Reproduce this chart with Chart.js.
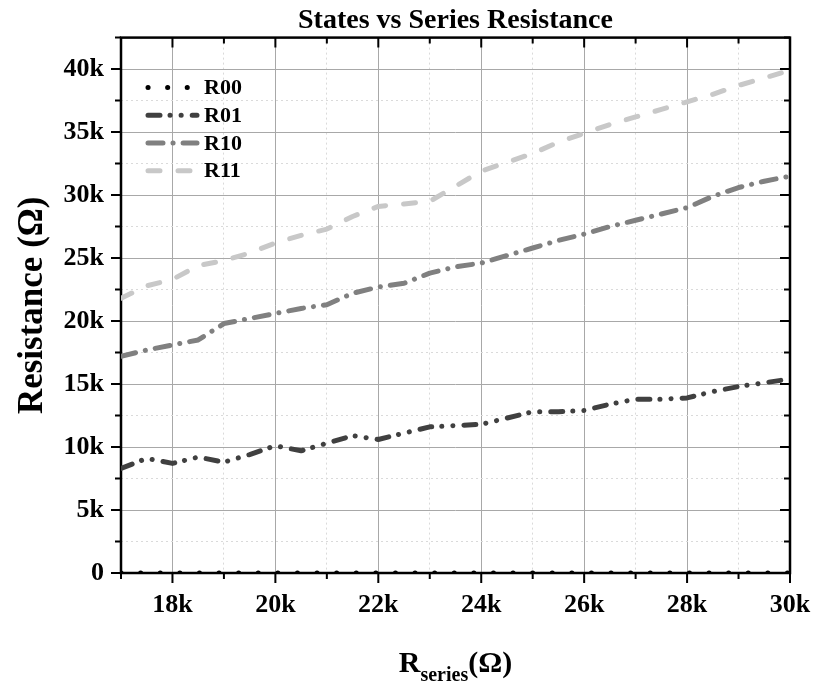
<!DOCTYPE html>
<html>
<head>
<meta charset="utf-8">
<script src="https://cdn.jsdelivr.net/npm/chart.js@4/dist/chart.umd.min.js"></script>
<style>
  html, body { margin: 0; padding: 0; background: #fff; }
  #wrap { width: 819px; height: 683px; }
</style>
</head>
<body>
<div id="wrap"><canvas id="chart"></canvas></div>
<script>
// series resistance (ohm) on the x axis
const seriesR = [17000, 17500, 18000, 18500, 19000, 19500, 20000, 20500, 21000, 21500, 22000, 22500, 23000,
  23500, 24000, 24500, 25000, 25500, 26000, 26500, 27000, 27500, 28000, 28500, 29000, 29500, 30000];

const r00 = [0, 0, 0, 0, 0, 0, 0, 0, 0, 0, 0, 0, 0, 0, 0, 0, 0, 0, 0, 0, 0, 0, 0, 0, 0, 0, 0];
const r01 = [8300, 9100, 8700, 9200, 8800, 9400, 10100, 9700, 10300, 10900, 10600, 11100, 11600,
  11700, 11800, 12300, 12800, 12800, 12900, 13400, 13800, 13800, 13900, 14400, 14800, 15100, 15400];
const r10 = [17200, 17700, 18100, 18500, 19800, 20200, 20600, 21000, 21300, 22200, 22700, 23000, 23800,
  24300, 24600, 25200, 25800, 26400, 26900, 27500, 28000, 28500, 29000, 29900, 30600, 31100, 31500];
const r11 = [21800, 22800, 23300, 24400, 24800, 25400, 26200, 26800, 27300, 28300, 29100, 29300, 29500,
  30700, 31900, 32600, 33300, 34200, 34900, 35600, 36200, 36800, 37400, 38000, 38700, 39300, 39900];

const labels = ["R00", "R01", "R10", "R11"];
const colors = ["#000000", "#404040", "#808080", "#c8c8c8"];
const dashes = [[0.1, 19.5], [12, 10, 0.1, 11, 0.1, 11], [15, 10, 0.1, 10], [12, 18]];

const FONT = "'Liberation Serif', 'Times New Roman', serif";

const toPoints = (ys) => ys.map((v, i) => ({ x: seriesR[i], y: v }));
const fmtK = (v) => (v === 0 ? "0" : v / 1000 + "k");

const datasets = [r00, r01, r10, r11].map((ys, i) => ({
  label: labels[i],
  data: toPoints(ys),
  borderColor: colors[i],
  borderDash: dashes[i],
  borderWidth: 5,
  borderCapStyle: "round",
  borderJoinStyle: "round",
  pointRadius: 0,
  tension: 0,
  fill: false,
}));

// frame, inward/outward tick marks, legend, x-axis title with subscript
const decor = {
  id: "decor",
  beforeDatasetsDraw(chart) {
    const { ctx, chartArea: a, scales: { x, y } } = chart;
    ctx.save();
    ctx.strokeStyle = "#000";
    ctx.lineWidth = 2;
    ctx.beginPath();
    x.ticks.forEach((t) => {
      const px = x.getPixelForValue(t.value);
      const len = t.value % 2000 === 0 ? 10 : 6;
      ctx.moveTo(px, a.bottom);
      ctx.lineTo(px, a.bottom + len);
      ctx.moveTo(px, a.top);
      ctx.lineTo(px, a.top + len);
    });
    y.ticks.forEach((t) => {
      const py = y.getPixelForValue(t.value);
      const len = t.value % 5000 === 0 ? 10 : 6;
      ctx.moveTo(a.left, py);
      ctx.lineTo(a.left - len, py);
      ctx.moveTo(a.right, py);
      ctx.lineTo(a.right - len, py);
    });
    ctx.stroke();
    ctx.lineWidth = 2.5;
    ctx.strokeRect(a.left, a.top, a.right - a.left, a.bottom - a.top);
    ctx.restore();
  },
  afterDraw(chart) {
    const { ctx, chartArea: a } = chart;
    ctx.save();
    // legend
    chart.data.datasets.forEach((ds, i) => {
      const yy = a.top + 50 + i * 27.7;
      ctx.strokeStyle = ds.borderColor;
      ctx.lineWidth = 5;
      ctx.lineCap = "round";
      ctx.setLineDash(ds.borderDash);
      ctx.beginPath();
      ctx.moveTo(a.left + 27, yy);
      ctx.lineTo(a.left + 76, yy);
      ctx.stroke();
      ctx.setLineDash([]);
      ctx.fillStyle = "#000";
      ctx.font = "bold 22px " + FONT;
      ctx.textBaseline = "middle";
      ctx.textAlign = "left";
      ctx.fillText(ds.label, a.left + 83, yy + 1);
    });
    // x title: R_series(Ω)
    const big = "bold 30px " + FONT;
    const small = "bold 20px " + FONT;
    ctx.textBaseline = "alphabetic";
    ctx.font = big;
    const wR = ctx.measureText("R").width;
    const wO = ctx.measureText("(Ω)").width;
    ctx.font = small;
    const wS = ctx.measureText("series").width;
    let x0 = (a.left + a.right) / 2 - (wR + wS + wO) / 2;
    ctx.fillStyle = "#000";
    ctx.font = big;
    ctx.fillText("R", x0, 672);
    ctx.font = small;
    ctx.fillText("series", x0 + wR, 681);
    ctx.font = big;
    ctx.fillText("(Ω)", x0 + wR + wS, 672);
    ctx.restore();
  },
};

new Chart(document.getElementById("chart").getContext("2d"), {
  type: "line",
  data: { datasets },
  options: {
    responsive: true,
    maintainAspectRatio: false,
    animation: false,
    devicePixelRatio: 1,
    layout: { padding: { left: 0, right: 29, top: 0, bottom: 0 } },
    plugins: {
      legend: { display: false },
      tooltip: { enabled: false },
      title: {
        display: true,
        text: "States vs Series Resistance",
        fullSize: false,
        color: "#000",
        font: { family: FONT, size: 28, weight: "bold" },
        padding: { top: 4, bottom: 0 },
      },
    },
    scales: {
      x: {
        type: "linear",
        min: 17000,
        max: 30000,
        afterFit: (s) => {
          s.height = 110;
          s.paddingLeft = 0;
          s.paddingRight = 0;
        },
        ticks: {
          stepSize: 1000,
          autoSkip: false,
          maxRotation: 0,
          padding: 17,
          color: "#000",
          font: { family: FONT, size: 26, weight: "bold" },
          callback: (v) => (v % 2000 === 0 ? fmtK(v) : ""),
        },
        grid: {
          drawTicks: false,
          lineWidth: 1,
          color: (c) => (c.tick && c.tick.value % 2000 === 0 ? "#a8a8a8" : "#dadada"),
        },
        border: {
          display: false,
          dash: (c) => (c.tick && c.tick.value % 2000 === 0 ? [] : [2, 3]),
        },
      },
      y: {
        min: 0,
        max: 42500,
        afterFit: (s) => {
          s.width = 121;
          s.paddingTop = 0;
          s.paddingBottom = 0;
        },
        title: {
          display: true,
          text: "Resistance (Ω)",
          color: "#000",
          font: { family: FONT, size: 35, weight: "bold" },
          padding: { top: 12, bottom: 0 },
        },
        ticks: {
          stepSize: 2500,
          autoSkip: false,
          padding: 17,
          color: "#000",
          font: { family: FONT, size: 26, weight: "bold" },
          callback: (v) => (v % 5000 === 0 ? fmtK(v) : ""),
        },
        grid: {
          drawTicks: false,
          lineWidth: 1,
          color: (c) => (c.tick && c.tick.value % 5000 === 0 ? "#a8a8a8" : "#dadada"),
        },
        border: {
          display: false,
          dash: (c) => (c.tick && c.tick.value % 5000 === 0 ? [] : [2, 3]),
        },
      },
    },
  },
  plugins: [decor],
});
</script>
</body>
</html>
